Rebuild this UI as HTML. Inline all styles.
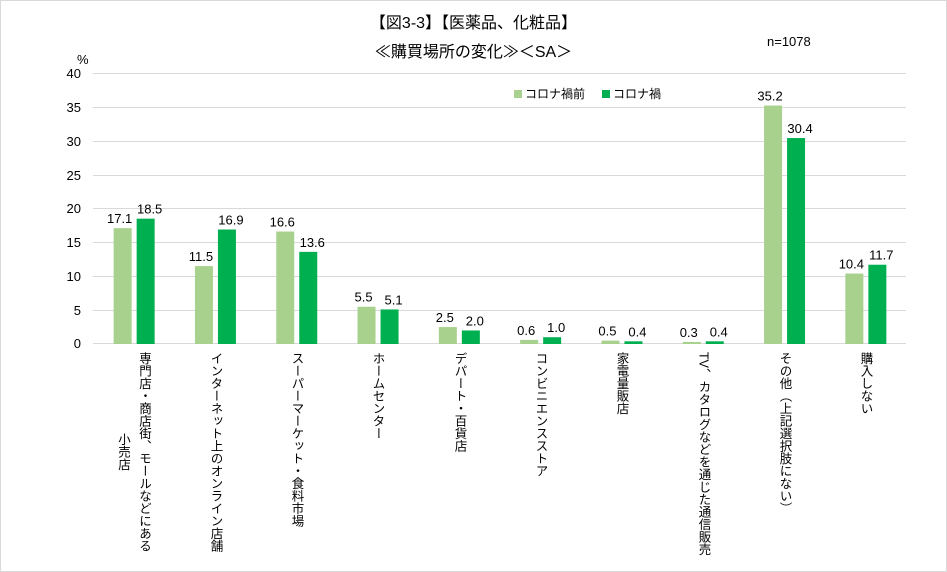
<!DOCTYPE html>
<html><head><meta charset="utf-8"><style>
body{margin:0;background:#fff;}
#c{position:relative;width:945px;height:570px;border:1px solid #d9d9d9;overflow:hidden;font-family:"Liberation Sans","Noto Sans CJK JP",sans-serif;color:#000;}
.t{position:absolute;white-space:nowrap;}
.v{position:absolute;top:351px;writing-mode:vertical-rl;font-size:12.5px;line-height:21px;letter-spacing:0;white-space:nowrap;transform:translateX(-50%);text-align:center;}
</style></head><body><div id="c">
<div class="t" style="left:0;width:945px;text-align:center;top:8px;font-size:16px;">【図3-3】【医薬品、化粧品】</div>
<div class="t" style="left:0;width:945px;text-align:center;top:37px;font-size:16px;">≪購買場所の変化≫＜SA＞</div>
<div class="t" style="left:766px;top:33px;font-size:13px;">n=1078</div>
<svg width="945" height="570" style="position:absolute;left:0;top:0" font-family="Liberation Sans" font-size="13">
<g stroke="#d9d9d9" stroke-width="1">
<line x1="92" x2="905" y1="72.5" y2="72.5"/><line x1="92" x2="905" y1="106.5" y2="106.5"/><line x1="92" x2="905" y1="140.5" y2="140.5"/><line x1="92" x2="905" y1="174.5" y2="174.5"/><line x1="92" x2="905" y1="207.5" y2="207.5"/><line x1="92" x2="905" y1="241.5" y2="241.5"/><line x1="92" x2="905" y1="275.5" y2="275.5"/><line x1="92" x2="905" y1="309.5" y2="309.5"/><line x1="92" x2="905" y1="342.5" y2="342.5"/>
</g>
<g text-anchor="end">
<text x="80" y="77">40</text><text x="80" y="111">35</text><text x="80" y="145">30</text><text x="80" y="179">25</text><text x="80" y="212">20</text><text x="80" y="246">15</text><text x="80" y="280">10</text><text x="80" y="314">5</text><text x="80" y="347">0</text>
</g>
<text x="76" y="63">%</text>
<rect x="513" y="89" width="8" height="8" fill="#a9d18e"/><text x="524" y="97" font-family="Noto Sans CJK JP" font-size="12">コロナ禍前</text>
<rect x="601" y="89" width="8" height="8" fill="#00b050"/><text x="612" y="97" font-family="Noto Sans CJK JP" font-size="12">コロナ禍</text>
<g id="bars"></g>
</svg>
<div class="v" style="left:132px;">専門店・商店街、モールなどにある<br>小売店</div>
<div class="v" style="left:214px;">インターネット上のオンライン店舗</div>
<div class="v" style="left:295px;">スーパーマーケット・食料市場</div>
<div class="v" style="left:376px;">ホームセンター</div>
<div class="v" style="left:458px;">デパート・百貨店</div>
<div class="v" style="left:539px;">コンビニエンスストア</div>
<div class="v" style="left:620px;">家電量販店</div>
<div class="v" style="left:702px;">TV、カタログなどを通じた通信販売</div>
<div class="v" style="left:783px;">その他（上記選択肢にない）</div>
<div class="v" style="left:864px;">購入しない</div>
</div>
<script>
var a=[17.1,11.5,16.6,5.5,2.5,0.6,0.5,0.3,35.2,10.4],b=[18.5,16.9,13.6,5.1,2.0,1.0,0.4,0.4,30.4,11.7];
var g=document.getElementById('bars'),s='',k=6.775;
for(var i=0;i<10;i++){var c=92+81.3*(i+0.5);
var h1=a[i]*k,h2=b[i]*k;
s+='<rect x="'+(c-20)+'" y="'+(343-h1)+'" width="18" height="'+h1+'" fill="#a9d18e"/>';
s+='<rect x="'+(c+3)+'" y="'+(343-h2)+'" width="18" height="'+h2+'" fill="#00b050"/>';
s+='<text x="'+(c-14)+'" y="'+(343-h1-5)+'" text-anchor="middle">'+a[i].toFixed(1)+'</text>';
s+='<text x="'+(c+16)+'" y="'+(343-h2-5)+'" text-anchor="middle">'+b[i].toFixed(1)+'</text>';}
g.innerHTML=s;
</script>
</body></html>
